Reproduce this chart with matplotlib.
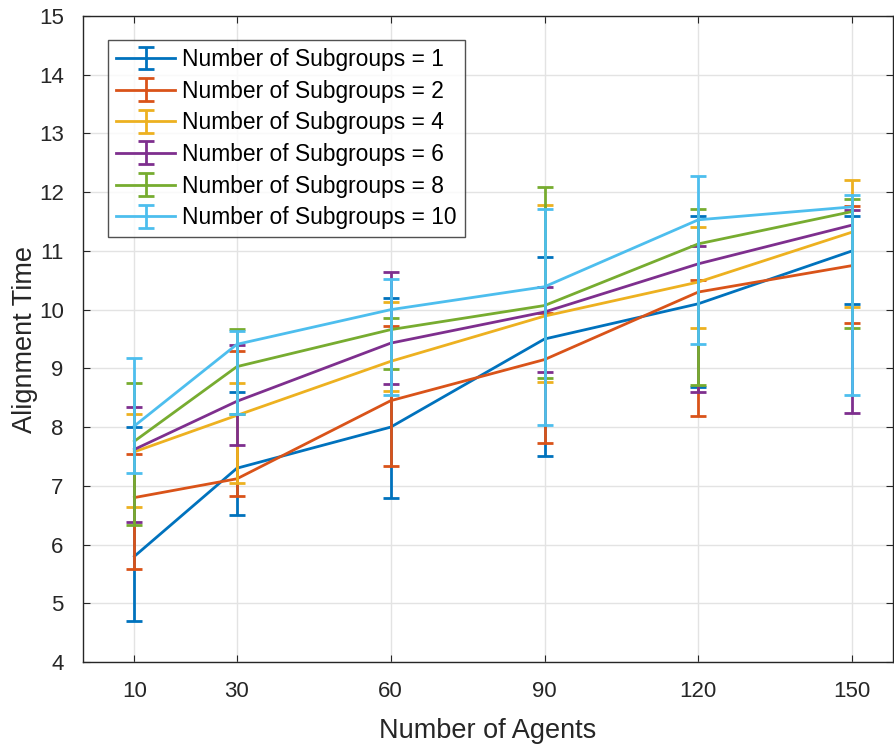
import matplotlib
matplotlib.use("Agg")
import matplotlib.pyplot as plt
import numpy as np

plt.rcParams['font.family'] = ['Liberation Sans', 'DejaVu Sans']

agents = [10, 30, 60, 90, 120, 150]
subgroups = [1, 2, 4, 6, 8, 10]

# mean alignment time per subgroup count
mean_1 = [5.80, 7.30, 8.00, 9.50, 10.10, 11.00]
mean_2 = [6.80, 7.12, 8.45, 9.15, 10.30, 10.75]
mean_4 = [7.58, 8.20, 9.12, 9.89, 10.47, 11.32]
mean_6 = [7.62, 8.44, 9.43, 9.96, 10.78, 11.44]
mean_8 = [7.76, 9.03, 9.66, 10.07, 11.12, 11.67]
mean_10 = [8.02, 9.41, 10.00, 10.39, 11.53, 11.75]

# lower / upper ends of the error bars
low_1 = [4.70, 6.50, 6.79, 7.50, 8.69, 10.10]
high_1 = [8.00, 8.60, 10.19, 10.89, 11.60, 11.60]
low_2 = [5.59, 6.83, 7.34, 7.73, 8.19, 9.77]
high_2 = [7.54, 9.30, 9.73, 9.95, 10.50, 11.76]
low_4 = [6.64, 7.05, 8.62, 8.77, 9.68, 10.04]
high_4 = [8.22, 8.75, 10.125, 11.78, 11.40, 12.21]
low_6 = [6.38, 7.70, 8.74, 8.94, 8.59, 8.245]
high_6 = [8.35, 9.40, 10.635, 10.39, 11.08, 11.70]
low_8 = [6.34, 8.23, 8.99, 8.83, 8.72, 9.69]
high_8 = [8.75, 9.675, 9.85, 12.09, 11.72, 11.89]
low_10 = [7.22, 8.22, 8.55, 8.03, 9.42, 8.54]
high_10 = [9.17, 9.64, 10.52, 11.71, 12.275, 11.96]

means = [mean_1, mean_2, mean_4, mean_6, mean_8, mean_10]
lows = [low_1, low_2, low_4, low_6, low_8, low_10]
highs = [high_1, high_2, high_4, high_6, high_8, high_10]
colors = ['#0072BD', '#D95319', '#EDB120', '#7E2F8E', '#77AC30', '#4DBEEE']

fig = plt.figure(figsize=(8.94, 7.45), dpi=100)
ax = fig.add_axes([0.093, 0.1114, 0.906, 0.8671])

for k, (m, lo, hi, c, g) in enumerate(zip(means, lows, highs, colors, subgroups)):
    m = np.array(m)
    yerr = [m - np.array(lo), np.array(hi) - m]
    ax.errorbar(agents, m, yerr=yerr, color=c, lw=2.0, elinewidth=2.0,
                capsize=5.5, capthick=2.0, label=f'Number of Subgroups = {g}',
                zorder=3 + k)

ax.set_xlim(0, 158)
ax.set_ylim(4, 15)
ax.set_xticks(agents)
ax.set_yticks(range(4, 16))
ax.tick_params(axis='both', which='both', direction='in', length=5,
               labelsize=16, colors='#262626', top=True, right=True, width=0.8)
ax.tick_params(axis='x', pad=14)
ax.tick_params(axis='y', pad=14)
ax.grid(True, color='#e3e3e3', linewidth=1.0, zorder=0)
ax.set_axisbelow(True)
for s in ax.spines.values():
    s.set_color('#262626')
    s.set_linewidth(1.0)

ax.set_xlabel('Number of Agents', fontsize=19.5, color='#262626', labelpad=11)
ax.set_ylabel('Alignment Time', fontsize=19.5, color='#262626', labelpad=0.5)

leg = ax.legend(loc='upper left', bbox_to_anchor=(0.031, 0.963), fontsize=16.4,
                frameon=True, fancybox=False, edgecolor='#262626',
                handlelength=2.6, handletextpad=0.3, borderpad=0.35,
                labelspacing=0.38, borderaxespad=0)
leg.get_frame().set_linewidth(1.0)

fig.savefig('out.png', dpi=100)
